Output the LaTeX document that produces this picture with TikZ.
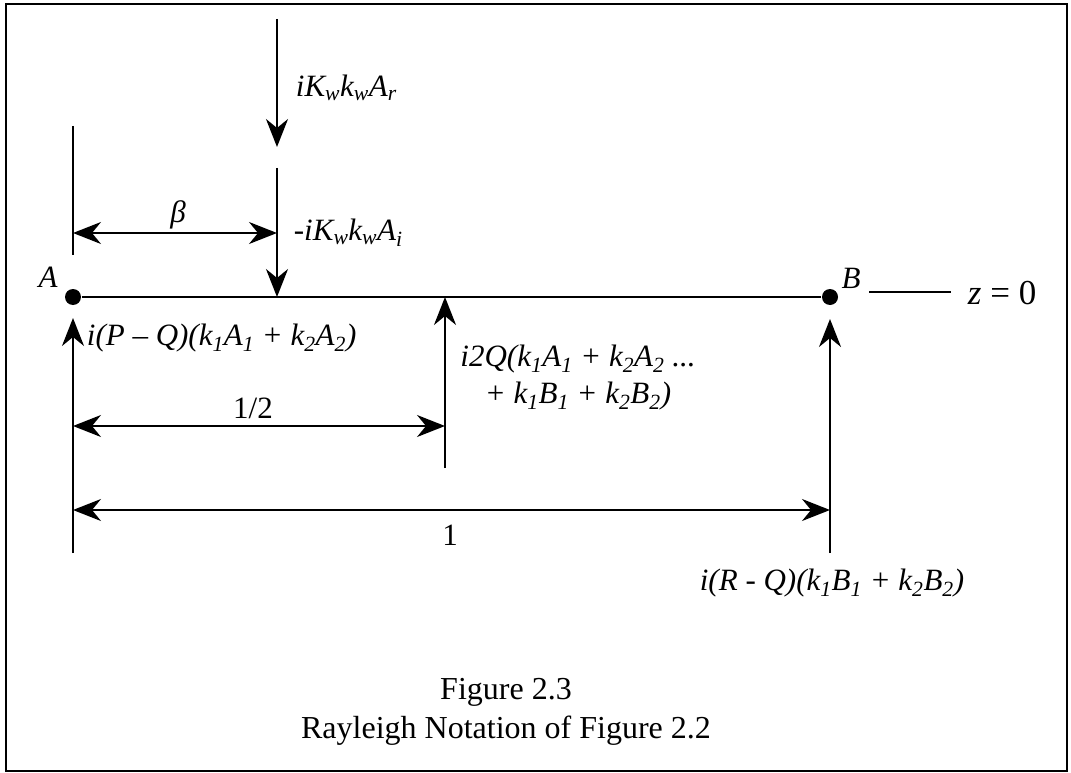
\documentclass[tikz,border=0pt]{standalone}
\usepackage{fontspec}
\setmainfont{Liberation Serif}
\usetikzlibrary{arrows.meta}

\newcommand{\sbs}[1]{\textsubscript{#1}}

\begin{document}
\begin{tikzpicture}[
  x=1pt, y=-1pt,
  font=\fontsize{31}{37}\selectfont,
  >={Stealth[length=28pt, width=22pt, inset=9pt]},
  line width=1.8pt,
  dot/.style={circle, fill=black, inner sep=0pt, minimum size=16pt},
  lab/.style={font=\fontsize{31}{37}\selectfont\itshape, inner sep=0pt},
  num/.style={font=\fontsize{31}{37}\selectfont, inner sep=0pt},
  force/.style={->, line width=2pt},
  dim/.style={<->, line width=1.6pt}
]
  \useasboundingbox (0,0) rectangle (1071,773);
  \draw[line width=2.5pt] (6,4) rectangle (1067,771);

  \node[dot] (A) at (73,297) {};
  \node[dot] (B) at (830,297) {};
  \coordinate (W) at (277,297);
  \coordinate (M) at (445,297);
  \draw (A) -- (B);

  \coordinate (Wr0) at (277,19);
  \coordinate (Wr1) at (277,147);
  \coordinate (Wi0) at (277,168);
  \coordinate (T0) at (73,126);
  \coordinate (T1) at (73,255);
  \coordinate (Ab) at (73,553);
  \coordinate (At) at (73,318);
  \coordinate (Mb) at (445,468);
  \coordinate (Bb) at (830,553);
  \coordinate (Bt) at (830,319);
  \coordinate (Z0) at (869,292);
  \coordinate (Z1) at (951,292);

  \draw[force] (Wr0) -- (Wr1);
  \draw[force] (Wi0) -- (W);
  \draw (T0) -- (T1);
  \draw[force] (Ab) -- (At);
  \draw[force] (Mb) -- (M);
  \draw[force] (Bb) -- (Bt);
  \draw (Z0) -- (Z1);

  \draw[dim] (T0 |- 0,233) coordinate (D0) -- (W |- 0,233) coordinate (D1);
  \draw[dim] (Ab |- 0,426) coordinate (H0) -- (Mb |- 0,426) coordinate (H1);
  \draw[dim] (Ab |- 0,510) coordinate (L0) -- (Bb |- 0,510) coordinate (L1);

  \node[lab] (beta) at (178,215) {β};
  \node[num] (half) at (253,408) {1/2};
  \node[num] (one) at (450,535) {1};
  \node[lab] (lA) at (48,277) {A};
  \node[lab] (lB) at (851,278) {B};
  \node[inner sep=0pt, anchor=west, font=\fontsize{35}{40}\selectfont] (z) at (967,293) {\textit{z} = 0};

  \node[lab, anchor=west] (Fr) at (295,88) {iK\sbs{w}k\sbs{w}A\sbs{r}};
  \node[lab, anchor=west] (Fi) at (293,233) {-iK\sbs{w}k\sbs{w}A\sbs{i}};
  \node[lab, anchor=west] (FA) at (86,338) {i(P – Q)(k\sbs{1}A\sbs{1} + k\sbs{2}A\sbs{2})};
  \node[lab, align=center] (FM) at (578,378)
    {i2Q(k\sbs{1}A\sbs{1} + k\sbs{2}A\sbs{2} ...\\ + k\sbs{1}B\sbs{1} + k\sbs{2}B\sbs{2})};
  \node[lab] (FB) at (832,583) {i(R - Q)(k\sbs{1}B\sbs{1} + k\sbs{2}B\sbs{2})};

  \node[num, align=center, font=\fontsize{32}{39}\selectfont] (cap) at (506,712)
    {Figure 2.3\\Rayleigh Notation of Figure 2.2};
\end{tikzpicture}
\end{document}
